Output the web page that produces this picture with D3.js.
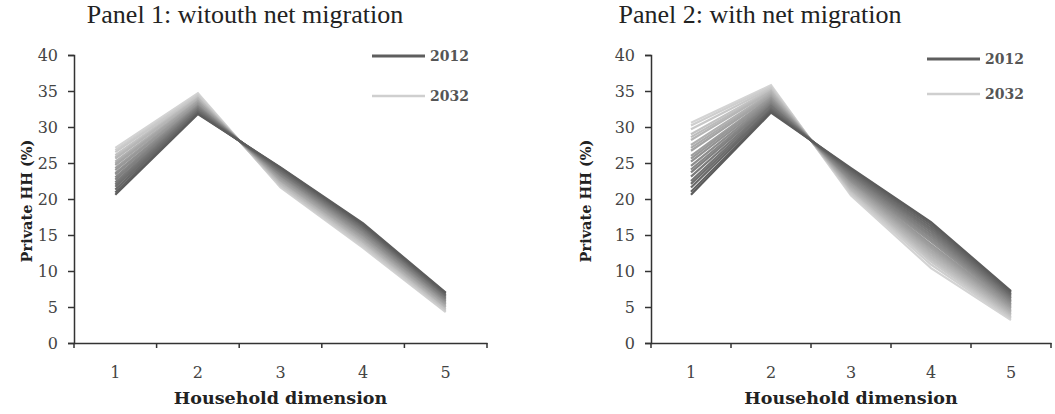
<!DOCTYPE html>
<html>
<head>
<meta charset="utf-8">
<script src="https://cdn.jsdelivr.net/npm/d3@7"></script>
<style>
    body { margin: 0; background: #fff; }
    svg { display: block; }
</style>
</head>
<body>
<div id="chart"></div>
<script>
// household share by dimension, one value per projection year 2012..2032
const years = d3.range(2012, 2033);
const dims = ["1", "2", "3", "4", "5"];
const yTicks = [0, 5, 10, 15, 20, 25, 30, 35, 40];

// panel 1: without net migration
const p1Dim1 = [20.6, 20.9, 21.3, 21.7, 22.0, 22.3, 22.7, 23.0, 23.4, 23.6, 24.0, 24.3, 24.7, 24.9, 25.2, 25.6, 25.8, 26.1, 26.5, 26.8, 27.1];
const p1Dim2 = [31.8, 31.9, 32.1, 32.2, 32.4, 32.5, 32.7, 32.8, 32.9, 33.0, 33.2, 33.3, 33.5, 33.6, 33.7, 33.9, 34.0, 34.1, 34.3, 34.5, 34.7];
const p1Dim3 = [24.4, 24.3, 24.1, 24.0, 23.8, 23.7, 23.6, 23.4, 23.3, 23.2, 23.0, 22.9, 22.7, 22.6, 22.5, 22.3, 22.2, 22.0, 21.9, 21.7, 21.6];
const p1Dim4 = [16.6, 16.4, 16.3, 16.1, 16.0, 15.8, 15.6, 15.5, 15.3, 15.1, 15.0, 14.8, 14.6, 14.5, 14.3, 14.1, 14.0, 13.8, 13.6, 13.4, 13.2];
const p1Dim5 = [7.0, 6.9, 6.7, 6.6, 6.5, 6.3, 6.2, 6.1, 5.9, 5.8, 5.7, 5.5, 5.4, 5.3, 5.1, 5.0, 4.9, 4.7, 4.6, 4.4, 4.3];

// panel 2: with net migration
const p2Dim1 = [20.6, 21.0, 21.6, 22.1, 22.5, 23.1, 23.7, 24.1, 24.6, 25.2, 25.6, 26.0, 26.7, 27.1, 27.5, 28.2, 28.6, 29.0, 29.7, 30.2, 30.6];
const p2Dim2 = [32.0, 32.2, 32.4, 32.6, 32.9, 33.0, 33.2, 33.4, 33.6, 33.8, 34.0, 34.1, 34.3, 34.5, 34.7, 34.9, 35.0, 35.2, 35.4, 35.6, 35.8];
const p2Dim3 = [24.3, 24.1, 23.9, 23.7, 23.5, 23.3, 23.1, 22.9, 22.7, 22.5, 22.4, 22.2, 22.0, 21.8, 21.6, 21.4, 21.3, 21.1, 20.9, 20.7, 20.5];
const p2Dim4 = [16.8, 16.5, 16.2, 15.9, 15.6, 15.3, 15.0, 14.7, 14.4, 14.1, 13.7, 13.4, 13.1, 12.8, 12.5, 12.2, 11.9, 11.6, 11.3, 10.9, 10.4];
const p2Dim5 = [7.2, 7.0, 6.8, 6.6, 6.4, 6.2, 6.0, 5.8, 5.6, 5.4, 5.2, 5.0, 4.8, 4.6, 4.4, 4.2, 4.0, 3.8, 3.6, 3.4, 3.2];

const tickFont = "'DejaVu Serif', serif";
const titleFont = "'Liberation Serif', 'Times New Roman', serif";

const svg = d3.select("#chart").append("svg")
    .attr("width", 1055)
    .attr("height", 414);

class LinePanel {
    constructor(svg, cfg) {
        this.svg = svg;
        this.cfg = cfg;
        this.initVis();
    }

    initVis() {
        let vis = this;
        let c = vis.cfg;

        // one row per year, one column per household dimension
        vis.series = years.map((yr, i) => ({
            year: yr,
            values: c.cols.map((col, j) => ({ dim: dims[j], v: col[i] }))
        }));

        vis.x = d3.scaleBand().domain(dims).range([c.left, c.right]).padding(0);
        vis.y = d3.scaleLinear().domain([0, 40]).range([c.bottom, c.top]);
        vis.color = d3.scaleLinear()
            .domain([years[0], years[years.length - 1]])
            .range(["#5c5c5c", "#d4d4d4"]);

        let g = vis.svg.append("g");

        // title
        g.append("text")
            .attr("x", c.titleX)
            .attr("y", 23)
            .attr("text-anchor", "middle")
            .style("font-family", titleFont)
            .style("font-size", "26px")
            .style("fill", "#222")
            .text(c.title);

        // y axis
        let yAxis = d3.axisLeft(vis.y).tickValues(yTicks).tickSize(6).tickPadding(10);
        let ya = g.append("g")
            .attr("transform", `translate(${c.left},0)`)
            .call(yAxis);
        ya.select(".domain").attr("stroke", "#333").attr("stroke-width", 1.5);
        ya.selectAll(".tick line").attr("stroke", "#333").attr("stroke-width", 1.5);
        ya.selectAll(".tick text")
            .style("font-family", tickFont)
            .style("font-size", "16px")
            .style("fill", "#444");

        // x axis: labels at band centres, ticks at band edges
        let xa = g.append("g")
            .attr("transform", `translate(0,${c.bottom})`)
            .call(d3.axisBottom(vis.x).tickSize(0).tickPadding(24));
        xa.select(".domain").attr("stroke", "#333").attr("stroke-width", 1.5);
        xa.selectAll(".tick text")
            .style("font-family", tickFont)
            .style("font-size", "16px")
            .style("fill", "#444");

        let edges = dims.map(d => vis.x(d)).concat([c.right]);
        g.selectAll(".xedge")
            .data(edges)
            .enter()
            .append("line")
            .attr("class", "xedge")
            .attr("x1", d => d).attr("x2", d => d)
            .attr("y1", c.bottom).attr("y2", c.bottom + 5)
            .attr("stroke", "#333")
            .attr("stroke-width", 1.5);

        // axis titles
        g.append("text")
            .attr("x", (c.left + c.right) / 2)
            .attr("y", 404)
            .attr("text-anchor", "middle")
            .style("font-family", tickFont)
            .style("font-size", "17.5px")
            .style("font-weight", "bold")
            .style("fill", "#222")
            .text("Household dimension");

        g.append("text")
            .attr("transform", `translate(${c.yLabelX},${(c.top + c.bottom) / 2 + 2}) rotate(-90)`)
            .attr("text-anchor", "middle")
            .style("font-family", tickFont)
            .style("font-size", "14.5px")
            .style("font-weight", "bold")
            .style("fill", "#222")
            .text("Private HH (%)");

        // lines, lightest first so the early years sit on top
        let line = d3.line()
            .x(d => vis.x(d.dim) + vis.x.bandwidth() / 2)
            .y(d => vis.y(d.v));

        g.selectAll(".yr")
            .data(vis.series.slice().reverse())
            .enter()
            .append("path")
            .attr("class", "yr")
            .attr("d", d => line(d.values))
            .attr("fill", "none")
            .attr("stroke", d => vis.color(d.year))
            .attr("stroke-width", 2.2)
            .attr("stroke-linejoin", "miter");

        // legend
        let leg = g.append("g");
        let legItems = [
            { label: "2012", y: c.legY[0], color: "#5e5e5e", w: 3 },
            { label: "2032", y: c.legY[1], color: "#cfcfcf", w: 2.5 }
        ];
        leg.selectAll("line")
            .data(legItems)
            .enter()
            .append("line")
            .attr("x1", c.legX).attr("x2", c.legX + 53)
            .attr("y1", d => d.y).attr("y2", d => d.y)
            .attr("stroke", d => d.color)
            .attr("stroke-width", d => d.w);
        leg.selectAll("text")
            .data(legItems)
            .enter()
            .append("text")
            .attr("x", c.legX + 58)
            .attr("y", d => d.y + 5)
            .style("font-family", tickFont)
            .style("font-size", "14px")
            .style("font-weight", "bold")
            .style("fill", "#555")
            .text(d => d.label);
    }
}

new LinePanel(svg, {
    title: "Panel 1: witouth net migration",
    titleX: 245,
    left: 74, right: 487, top: 55, bottom: 343,
    yLabelX: 32,
    legX: 372, legY: [56, 96],
    cols: [p1Dim1, p1Dim2, p1Dim3, p1Dim4, p1Dim5]
});

new LinePanel(svg, {
    title: "Panel 2: with net migration",
    titleX: 760,
    left: 651, right: 1051, top: 55, bottom: 343,
    yLabelX: 591,
    legX: 927, legY: [59, 94],
    cols: [p2Dim1, p2Dim2, p2Dim3, p2Dim4, p2Dim5]
});
</script>
</body>
</html>
